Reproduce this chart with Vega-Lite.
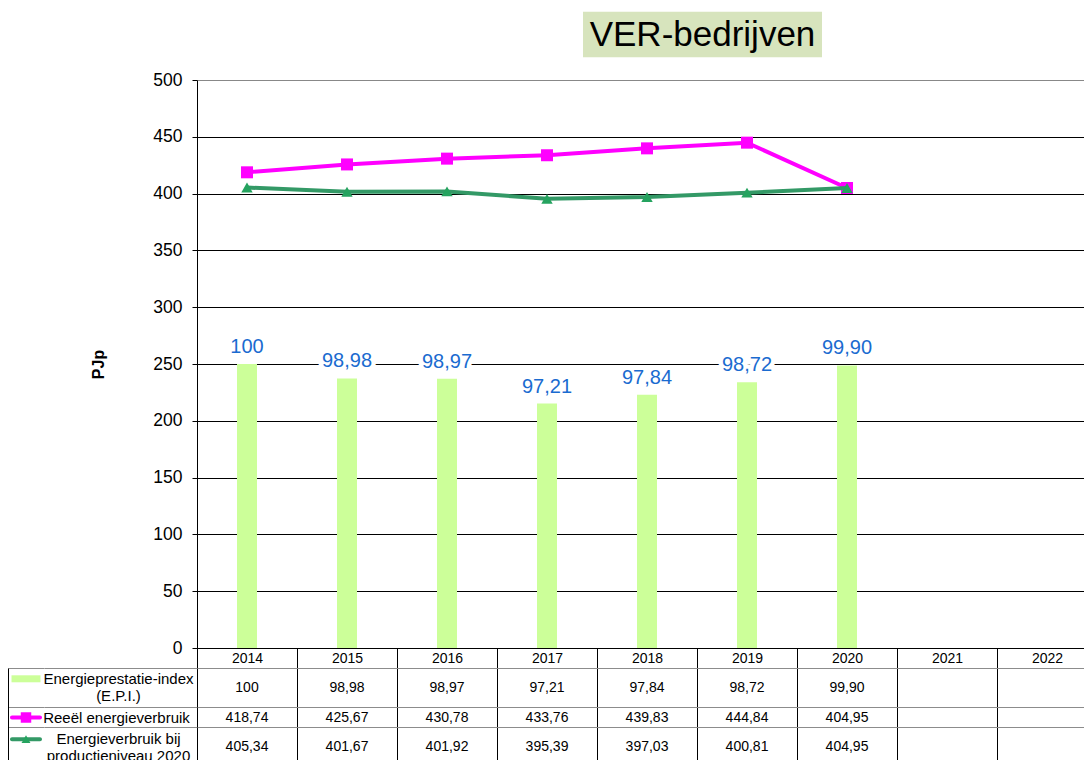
{
  "$schema": "https://vega.github.io/schema/vega-lite/v6.json",
  "padding": {"left": 8, "top": 11, "right": 0, "bottom": 0},
  "config": {
    "view": {"stroke": null},
    "font": "Liberation Sans",
    "text": {"font": "Liberation Sans"}
  },
  "datasets": {
    "ver": [
      {"jaar": "2014", "epi": 100, "reeel": 418.74, "bij": 405.34, "EPI": "100", "Reeel": "418,74", "Bij": "405,34"},
      {"jaar": "2015", "epi": 98.98, "reeel": 425.67, "bij": 401.67, "EPI": "98,98", "Reeel": "425,67", "Bij": "401,67"},
      {"jaar": "2016", "epi": 98.97, "reeel": 430.78, "bij": 401.92, "EPI": "98,97", "Reeel": "430,78", "Bij": "401,92"},
      {"jaar": "2017", "epi": 97.21, "reeel": 433.76, "bij": 395.39, "EPI": "97,21", "Reeel": "433,76", "Bij": "395,39"},
      {"jaar": "2018", "epi": 97.84, "reeel": 439.83, "bij": 397.03, "EPI": "97,84", "Reeel": "439,83", "Bij": "397,03"},
      {"jaar": "2019", "epi": 98.72, "reeel": 444.84, "bij": 400.81, "EPI": "98,72", "Reeel": "444,84", "Bij": "400,81"},
      {"jaar": "2020", "epi": 99.90, "reeel": 404.95, "bij": 404.95, "EPI": "99,90", "Reeel": "404,95", "Bij": "404,95"}
    ],
    "legenda": [
      {"reeks": "EPI", "label": "Energieprestatie-index\n(E.P.I.)"},
      {"reeks": "Reeel", "label": "Reeël energieverbruik"},
      {"reeks": "Bij", "label": "Energieverbruik bij\nproductieniveau 2020"}
    ],
    "titel": [{"titel": "VER-bedrijven"}]
  },
  "concat": [
    {"width": 36, "height": 10, "data": {"values": []}, "mark": "text", "encoding": {}},
    {"width": 153, "height": 10, "data": {"values": []}, "mark": "text", "encoding": {}},
    {
      "width": 900,
      "height": 568,
      "data": {"name": "ver"},
      "layer": [
        {
          "encoding": {
            "x": {"field": "jaar", "type": "nominal",
              "scale": {"domain": ["2014","2015","2016","2017","2018","2019","2020","2021","2022"], "paddingInner": 0, "paddingOuter": 0},
              "axis": {"orient": "bottom", "title": null, "labelAngle": 0, "labelFont": "Liberation Sans", "labelFontSize": 14, "labelColor": "#000", "labelPadding": -17, "labelBaseline": "top", "tickSize": 20, "tickColor": "#000", "tickBand": "extent", "domainColor": "#000", "grid": false}},
            "y": {"field": "epi", "type": "quantitative", "scale": {"domain": [80, 120], "zero": false, "nice": false}, "axis": null}
          },
          "layer": [
            {"mark": {"type": "bar", "width": 20, "color": "#ccff99"}, "encoding": {"y2": {"datum": 80}}},
            {"mark": {"type": "text", "dy": -11, "baseline": "alphabetic", "fontSize": 20, "fill": "white", "stroke": "white", "strokeWidth": 9, "strokeJoin": "round"}, "encoding": {"text": {"field": "EPI"}}},
            {"mark": {"type": "text", "dy": -11, "baseline": "alphabetic", "fontSize": 20, "color": "#1a6bd0"}, "encoding": {"text": {"field": "EPI"}}}
          ]
        },
        {
          "encoding": {
            "x": {"field": "jaar", "type": "nominal",
              "scale": {"domain": ["2014","2015","2016","2017","2018","2019","2020","2021","2022"], "paddingInner": 0, "paddingOuter": 0},
              "axis": null}
          },
          "layer": [
            {"mark": {"type": "line", "color": "#ff00ff", "strokeWidth": 4},
             "encoding": {"y": {"field": "reeel", "type": "quantitative", "scale": {"domain": [0, 500], "nice": false},
               "axis": {"orient": "left", "title": "PJp", "titleFont": "Liberation Sans", "titleFontSize": 16, "titleFontWeight": "bold", "titleColor": "#000", "titlePadding": 46,
                 "values": [0, 50, 100, 150, 200, 250, 300, 350, 400, 450, 500],
                 "labelFont": "Liberation Sans", "labelFontSize": 17.5, "labelColor": "#000", "labelPadding": 10,
                 "tickSize": 5, "tickColor": "#000", "domainColor": "#000",
                 "grid": true, "gridColor": {"condition": {"test": "datum.value === 500", "value": "#888888"}, "value": "#000000"}, "gridOpacity": 1}}}},
            {"mark": {"type": "point", "shape": "square", "filled": true, "size": 144, "color": "#ff00ff", "opacity": 1},
             "encoding": {"y": {"field": "reeel", "type": "quantitative"}}},
            {"mark": {"type": "line", "color": "#339966", "strokeWidth": 4},
             "encoding": {"y": {"field": "bij", "type": "quantitative"}}},
            {"mark": {"type": "point", "shape": "triangle-up", "filled": true, "size": 130, "color": "#25a35f", "opacity": 1},
             "encoding": {"y": {"field": "bij", "type": "quantitative"}}}
          ]
        },
        {
          "data": {"name": "titel"},
          "layer": [
            {"mark": {"type": "rect", "color": "#d7e4bd"},
             "encoding": {
               "x": {"datum": 2017.36, "type": "quantitative", "scale": {"domain": [2013.5, 2022.5], "nice": false, "zero": false}, "axis": null},
               "x2": {"datum": 2019.75},
               "y": {"datum": 560, "type": "quantitative", "scale": {"domain": [0, 500], "nice": false}, "axis": null},
               "y2": {"datum": 520}}},
            {"mark": {"type": "text", "fontSize": 35, "color": "#000", "baseline": "middle", "align": "center"},
             "encoding": {
               "x": {"datum": 2018.555, "type": "quantitative"},
               "y": {"datum": 540, "type": "quantitative"},
               "text": {"field": "titel"}}}
          ]
        }
      ],
      "resolve": {"scale": {"x": "independent", "y": "independent"}, "axis": {"x": "independent", "y": "independent"}}
    },
    {
      "width": 36,
      "height": 99,
      "data": {"name": "legenda"},
      "encoding": {
        "y": {"field": "reeks", "type": "nominal", "bandPosition": 0,
          "scale": {"type": "band", "domain": ["EPI·0","EPI·1","EPI","EPI·3","Reeel·0","Reeel","Bij·0","Bij·1","Bij","Bij·3"], "paddingInner": 0, "paddingOuter": 0},
          "axis": {"title": null, "values": ["EPI·0","Reeel·0","Bij·0"], "bandPosition": 0, "labels": false, "ticks": false, "domain": true, "domainColor": "#000", "grid": true, "gridColor": "#8c8c8c"}}
      },
      "layer": [
        {"transform": [{"filter": "datum.reeks === 'EPI'"}], "mark": {"type": "tick", "orient": "horizontal", "size": 29, "thickness": 7, "color": "#ccff99", "opacity": 1, "yOffset": -9}},
        {"transform": [{"filter": "datum.reeks === 'Reeel'"}], "mark": {"type": "tick", "orient": "horizontal", "size": 32, "thickness": 4, "color": "#ff00ff", "opacity": 1, "cornerRadius": 2}},
        {"transform": [{"filter": "datum.reeks === 'Reeel'"}], "mark": {"type": "point", "shape": "square", "filled": true, "size": 110, "color": "#ff00ff", "opacity": 1}},
        {"transform": [{"filter": "datum.reeks === 'Bij'"}], "mark": {"type": "tick", "orient": "horizontal", "size": 32, "thickness": 4, "color": "#339966", "opacity": 1, "cornerRadius": 2, "yOffset": -8}},
        {"transform": [{"filter": "datum.reeks === 'Bij'"}], "mark": {"type": "point", "shape": "triangle-up", "filled": true, "size": 80, "color": "#25a35f", "opacity": 1, "yOffset": -8}}
      ]
    },
    {
      "width": 153,
      "height": 99,
      "data": {"name": "legenda"},
      "encoding": {
        "y": {"field": "reeks", "type": "nominal", "bandPosition": 0,
          "scale": {"type": "band", "domain": ["EPI·0","EPI·1","EPI","EPI·3","Reeel·0","Reeel","Bij·0","Bij·1","Bij","Bij·3"], "paddingInner": 0, "paddingOuter": 0},
          "axis": {"title": null, "values": ["EPI·0","Reeel·0","Bij·0"], "bandPosition": 0, "labels": false, "ticks": false, "domain": false, "grid": true, "gridColor": "#8c8c8c"}},
        "text": {"field": "label"}
      },
      "layer": [
        {"transform": [{"filter": "datum.reeks !== 'Reeel'"}],
         "mark": {"type": "text", "fontSize": 15, "lineBreak": "\n", "lineHeight": 17, "baseline": "middle", "color": "#000", "dx": -2, "dy": -8.5}},
        {"transform": [{"filter": "datum.reeks === 'Reeel'"}],
         "mark": {"type": "text", "fontSize": 15, "baseline": "middle", "color": "#000", "dx": -4}}
      ]
    },
    {
      "width": 900,
      "height": 99,
      "data": {"name": "ver"},
      "transform": [{"fold": ["EPI", "Reeel", "Bij"], "as": ["reeks", "tekst"]}],
      "mark": {"type": "text", "fontSize": 14, "baseline": "middle", "color": "#000"},
      "encoding": {
        "x": {"field": "jaar", "type": "nominal",
          "scale": {"domain": ["2014","2015","2016","2017","2018","2019","2020","2021","2022"], "paddingInner": 0, "paddingOuter": 0},
          "axis": {"orient": "top", "title": null, "labels": false, "ticks": false, "domain": false, "grid": true, "gridColor": "#000", "tickBand": "extent"}},
        "y": {"field": "reeks", "type": "nominal", "bandPosition": 0,
          "scale": {"type": "band", "domain": ["EPI·0","EPI·1","EPI","EPI·3","Reeel·0","Reeel","Bij·0","Bij·1","Bij","Bij·3"], "paddingInner": 0, "paddingOuter": 0},
          "axis": {"title": null, "values": ["EPI·0","Reeel·0","Bij·0"], "bandPosition": 0, "labels": false, "ticks": false, "domain": false, "grid": true, "gridColor": "#8c8c8c"}},
        "text": {"field": "tekst"}
      }
    }
  ],
  "columns": 3,
  "spacing": {"row": 20, "column": 0},
  "bounds": "flush",
  "align": "each"
}
